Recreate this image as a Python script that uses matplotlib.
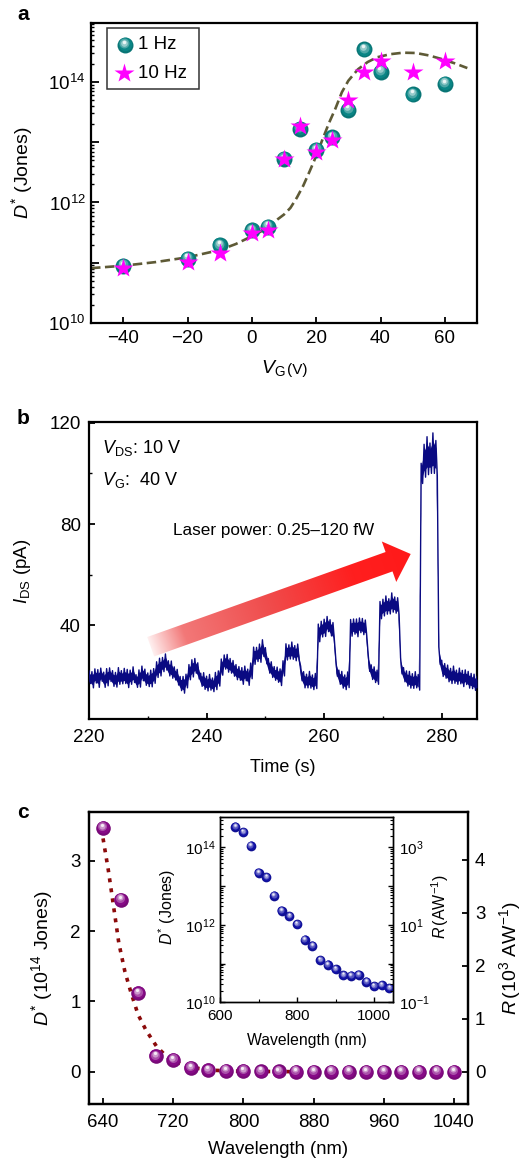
import numpy as np
import matplotlib
matplotlib.use("Agg")
import matplotlib.pyplot as plt
import matplotlib.colors as mcolors
from matplotlib.transforms import offset_copy
from matplotlib.patches import Polygon, Rectangle
from matplotlib.ticker import LogLocator, MultipleLocator, FixedLocator, NullFormatter, FuncFormatter

# ---------------- data: panel a ----------------
vg = [-40, -20, -10, 0, 5, 10, 15, 20, 25, 30, 35, 40, 50, 60]
dstar_1hz = [8.9e10, 1.17e11, 1.95e11, 3.47e11, 3.98e11, 5.25e12, 1.66e13, 7.4e12,
             1.2e13, 3.47e13, 3.47e14, 1.48e14, 6.2e13, 9.3e13]
dstar_10hz = [8.3e10, 1.02e11, 1.45e11, 3.16e11, 3.55e11, 5.25e12, 1.86e13, 6.8e12,
              1.1e13, 5.1e13, 1.48e14, 2.2e14, 1.48e14, 2.2e14]
fit_vg = [-50, -40, -30, -20, -10, -5, 0, 5, 8, 10, 12, 14, 16, 18, 20, 22, 24, 26, 28,
          30, 33, 36, 39, 43, 47, 51, 55, 59, 63, 67]
fit_log10 = [10.91, 10.95, 11.01, 11.09, 11.21, 11.31, 11.44, 11.58, 11.72, 11.80, 11.91,
             12.08, 12.28, 12.52, 12.77, 13.05, 13.32, 13.56, 13.83, 14.02, 14.21, 14.33,
             14.41, 14.46, 14.485, 14.48, 14.44, 14.38, 14.31, 14.23]

# ---------------- data: panel b ----------------
time_s = np.arange(220.0, 286.01, 0.5)
current_mid = [19.5, 18.5, 20.0, 19.0, 20.5, 18.5, 19.5, 20.5, 19.0, 18.5,
               20.0, 19.5, 20.0, 19.0, 19.5, 20.5, 18.0, 19.0, 21.0, 19.5,
               18.5, 19.0, 20.0, 22.5, 23.5, 24.5, 25.5, 23.0, 22.5, 21.0,
               19.5, 17.0, 16.5, 18.0, 21.5, 23.0, 24.0, 22.0, 18.5, 18.0,
               17.0, 17.5, 16.5, 18.0, 19.0, 23.5, 25.5, 25.0, 24.0, 23.0,
               21.5, 21.0, 20.0, 21.0, 19.5, 22.0, 28.0, 28.5, 29.0, 31.0,
               28.0, 24.0, 22.5, 21.0, 20.5, 19.5, 23.0, 29.5, 29.5, 30.0,
               29.0, 29.5, 21.0, 18.5, 18.0, 18.5, 17.5, 18.0, 37.0, 38.5,
               39.0, 40.5, 39.0, 37.5, 23.0, 19.5, 18.5, 17.5, 18.5, 39.0,
               39.5, 39.0, 40.0, 39.5, 39.0, 25.0, 21.5, 20.5, 19.5, 46.0,
               47.0, 48.0, 47.5, 49.0, 48.0, 47.5, 24.0, 20.5, 19.0, 18.5,
               18.0, 18.5, 17.5, 100.0, 105.0, 107.0, 106.0, 108.0, 106.0, 28.0,
               23.0, 22.0, 21.0, 20.0, 20.5, 19.5, 20.0, 19.0, 19.5, 18.5,
               18.0, 17.5, 17.0]
current_spread = [2.5, 3.2, 2.8, 3.5, 2.6, 3.0, 3.4, 2.7, 3.1, 2.9,
                  3.3, 2.6, 3.0, 3.6, 2.8, 3.1, 2.5, 3.4, 2.9, 3.2,
                  2.7, 3.3, 2.9, 3.1, 3.5, 2.8, 3.2, 3.0, 3.4, 2.6,
                  3.1, 2.8, 3.3, 2.7, 3.0, 3.4, 2.9, 3.2, 2.6, 3.3,
                  2.9, 3.1, 2.7, 3.4, 3.0, 3.2, 2.8, 3.5, 2.9, 3.1,
                  3.0, 2.7, 3.3, 2.9, 3.2, 3.1, 3.4, 2.8, 3.6, 3.3,
                  3.2, 2.9, 3.1, 2.7, 3.0, 3.3, 3.0, 3.2, 2.8, 3.4,
                  3.0, 3.1, 2.9, 3.2, 2.7, 3.3, 2.9, 3.0, 3.5, 3.1,
                  3.4, 3.0, 3.2, 3.6, 3.1, 2.8, 3.3, 2.9, 3.1, 3.3,
                  3.0, 3.5, 2.9, 3.2, 3.1, 3.2, 2.9, 3.1, 2.8, 3.4,
                  3.3, 3.6, 3.0, 3.8, 3.2, 3.4, 3.2, 2.8, 3.0, 3.3,
                  2.9, 3.2, 3.1, 4.0, 6.5, 7.5, 6.0, 8.0, 7.0, 3.5,
                  3.2, 2.9, 3.3, 3.0, 3.4, 2.8, 3.1, 3.2, 2.9, 3.3,
                  3.0, 3.2, 2.9]

# ---------------- data: panel c ----------------
wavelength_nm = [640, 660, 680, 700, 720, 740, 760, 780, 800, 820, 840, 860, 880, 900,
                 920, 940, 960, 980, 1000, 1020, 1040]
dstar_jones = [3.47e14, 2.45e14, 1.12e14, 2.2e13, 1.7e13, 5.6e12, 2.3e12, 1.66e12,
               1.05e12, 4.1e11, 2.9e11, 1.23e11, 9.3e10, 7.1e10, 5.0e10, 4.9e10,
               5.1e10, 3.4e10, 2.6e10, 2.8e10, 2.3e10]
fit_wl = [640, 646, 651, 658, 665, 672, 680, 689, 701, 716, 740, 765, 800, 860]
fit_dstar14 = [3.32, 2.87, 2.44, 1.83, 1.42, 1.12, 0.81, 0.59, 0.36, 0.17, 0.06, 0.02,
               0.005, 0.0]

# ---------------- style ----------------
plt.rcParams.update({
    "font.family": ["Liberation Sans", "DejaVu Sans"],
    "mathtext.fontset": "custom",
    "mathtext.rm": "Liberation Sans",
    "mathtext.it": "Liberation Sans:italic",
    "mathtext.bf": "Liberation Sans:bold",
    "axes.linewidth": 1.6,
    "xtick.direction": "in",
    "ytick.direction": "in",
    "xtick.major.width": 1.3,
    "ytick.major.width": 1.3,
    "xtick.minor.width": 1.0,
    "ytick.minor.width": 1.0,
    "xtick.major.size": 4.5,
    "ytick.major.size": 4.5,
    "xtick.minor.size": 2.5,
    "ytick.minor.size": 2.5,
})

W, H = 529, 1160
fig = plt.figure(figsize=(W / 100, H / 100), dpi=100)
TICK = 13.5
LAB = 14


def ax_px(left, top, right, bottom):
    return fig.add_axes([left / W, 1 - bottom / H, (right - left) / W, (bottom - top) / H])


def spheres(ax, x, y, color, ms, transform=None, zorder=3):
    base = transform if transform is not None else ax.transData
    c = np.array(mcolors.to_rgb(color))
    layers = [(1.0, -0.12, 0.0, 0.0), (0.84, 0.0, -0.02, 0.05), (0.62, 0.28, -0.04, 0.10),
              (0.42, 0.58, -0.06, 0.15), (0.22, 0.92, -0.07, 0.20)]
    for f, t, dx, dy in layers:
        if t < 0:
            col = c * (1 + t)
        else:
            col = c * (1 - t) + t
        tr = offset_copy(base, fig=fig, x=dx * ms, y=dy * ms, units="points")
        ax.plot(x, y, "o", ms=ms * f, color=col, mec="none", transform=tr,
                zorder=zorder, linestyle="none")


# ======================= panel a =======================
axa = ax_px(91, 23, 477, 323)
axa.plot(fit_vg, 10 ** np.array(fit_log10), color="#5e5a36", lw=1.9,
         linestyle=(0, (3.6, 1.7)), zorder=2)
spheres(axa, vg, dstar_1hz, "#0a8585", 11.5, zorder=3)
axa.plot(vg, dstar_10hz, "*", ms=14.5, color="#ff00ff", mec="none", linestyle="none", zorder=6)
axa.set_yscale("log")
axa.set_xlim(-50, 70)
axa.set_ylim(1e10, 9.5e14)
axa.xaxis.set_major_locator(FixedLocator([-40, -20, 0, 20, 40, 60]))
axa.yaxis.set_major_locator(LogLocator(base=10, numticks=20))
axa.yaxis.set_minor_locator(LogLocator(base=10, subs=np.arange(2, 10), numticks=20))
axa.yaxis.set_minor_formatter(NullFormatter())


def even_pow(v, pos):
    e = int(round(np.log10(v)))
    return r"$10^{%d}$" % e if e % 2 == 0 else ""


axa.yaxis.set_major_formatter(FuncFormatter(even_pow))
axa.tick_params(axis="both", labelsize=TICK)
axa.tick_params(axis="y", pad=4)
axa.tick_params(axis="x", pad=5)
axa.tick_params(axis="y", which="major", length=5.5)
axa.text(-0.178, 0.5, r"$D^{*}$ (Jones)", rotation=90, ha="center", va="center",
         fontsize=LAB, transform=axa.transAxes)
axa.text(0.503, -0.15, r"$V_{\mathrm{G}}$", ha="right", va="center", fontsize=LAB,
         transform=axa.transAxes)
axa.text(0.508, -0.157, "(V)", ha="left", va="center", fontsize=11,
         transform=axa.transAxes)
# legend
axa.add_patch(Rectangle((0.0415, 0.78), 0.2385, 0.203, transform=axa.transAxes,
                        facecolor="white", edgecolor="#333333", lw=1.1, zorder=7))
spheres(axa, [0.088], [0.927], "#0a8585", 11.5, transform=axa.transAxes, zorder=8)
axa.plot([0.0855], [0.833], "*", ms=14.5, color="#ff00ff", mec="none",
         transform=axa.transAxes, zorder=8)
axa.text(0.122, 0.927, "1 Hz", fontsize=13.5, ha="left", va="center",
         transform=axa.transAxes, zorder=9)
axa.text(0.122, 0.833, "10 Hz", fontsize=13.5, ha="left", va="center",
         transform=axa.transAxes, zorder=9)
fig.text(17 / W, 1 - 14 / H, "a", fontsize=15, fontweight="bold", ha="left", va="center")

# ======================= panel b =======================
axb = ax_px(89, 422, 477, 719)
mid = np.array(current_mid)
spr = np.array(current_spread)
axb.fill_between(time_s, mid - 0.6 * spr, mid + 0.6 * spr, color="#0a0a82", lw=0, zorder=3)
tz = np.empty(2 * len(time_s))
yz = np.empty(2 * len(time_s))
tz[0::2] = time_s
tz[1::2] = time_s + 0.25
yz[0::2] = mid + spr
yz[1::2] = mid - spr
axb.plot(tz, yz, color="#0a0a82", lw=1.0, zorder=3)
axb.set_xlim(220, 286)
axb.set_ylim(3, 120.3)
axb.xaxis.set_major_locator(MultipleLocator(20))
axb.xaxis.set_minor_locator(MultipleLocator(10))
axb.yaxis.set_major_locator(FixedLocator([40, 80, 120]))
axb.yaxis.set_minor_locator(FixedLocator([20, 60, 100]))
axb.tick_params(axis="both", labelsize=TICK)
axb.tick_params(axis="x", pad=7)
axb.tick_params(axis="y", pad=6)
axb.text(-0.172, 0.496, r"$I_{\mathrm{DS}}$ (pA)", rotation=90, ha="center", va="center",
         fontsize=13.5, transform=axb.transAxes)
axb.text(0.5, -0.162, "Time (s)", ha="center", va="center", fontsize=13,
         transform=axb.transAxes)
axb.text(0.0335, 0.912, r"$V_{\mathrm{DS}}$: 10 V", ha="left", va="center", fontsize=13,
         transform=axb.transAxes)
axb.text(0.0335, 0.805, r"$V_{\mathrm{G}}$:  40 V", ha="left", va="center", fontsize=13,
         transform=axb.transAxes)
axb.text(0.2165, 0.636, "Laser power: 0.25\u2013120 fW", ha="left", va="center",
         fontsize=12.3, transform=axb.transAxes)

# gradient arrow (axes pixel space)
AW, AH = 388.0, 297.0
T = np.array([61.7, 72.3])
P = np.array([321.7, 165.0])
d = P - T
L = np.hypot(*d)
u = d / L
n = np.array([-u[1], u[0]])
hw_shaft, hw_head, head_len = 10.3, 21.5, 23.0
Hb = P - u * head_len
poly_px = np.array([T - n * hw_shaft, Hb - n * hw_shaft, Hb - n * hw_head, P,
                    Hb + n * hw_head, Hb + n * hw_shaft, T + n * hw_shaft])
x0, y0 = poly_px.min(axis=0) - 2
x1, y1 = poly_px.max(axis=0) + 2
gx, gy = np.meshgrid(np.linspace(x0, x1, 400), np.linspace(y0, y1, 160))
s = np.clip(((gx - T[0]) * u[0] + (gy - T[1]) * u[1]) / L, 0, 1)
stops = [0.0, 0.13, 0.45, 0.78, 1.0]
rs = [1.0, 0.95, 0.94, 1.0, 1.0]
gs = [0.94, 0.47, 0.30, 0.12, 0.10]
bs = [0.94, 0.47, 0.30, 0.12, 0.10]
img = np.dstack([np.interp(s, stops, rs), np.interp(s, stops, gs), np.interp(s, stops, bs)])
im = axb.imshow(img, extent=(x0 / AW, x1 / AW, y0 / AH, y1 / AH), origin="lower",
                transform=axb.transAxes, aspect="auto", zorder=5, interpolation="bilinear")
clip_poly = Polygon(poly_px / np.array([AW, AH]), closed=True, transform=axb.transAxes,
                    facecolor="none", edgecolor="none")
axb.add_patch(clip_poly)
im.set_clip_path(clip_poly)
axb.set_xlim(220, 286)
axb.set_ylim(3, 120.3)
fig.text(17 / W, 1 - 418 / H, "b", fontsize=15, fontweight="bold", ha="left", va="center")

# ======================= panel c =======================
axc = ax_px(89, 811.7, 468, 1104)
axc.plot(fit_wl, fit_dstar14, color="#8b0a0a", lw=2.6, linestyle=(0, (1.1, 1.7)),
         zorder=2)
spheres(axc, wavelength_nm, np.array(dstar_jones) / 1e14, "#870a87", 10.5, zorder=3)
axc.set_xlim(624, 1056)
axc.set_ylim(-0.46, 3.70)
axc.xaxis.set_major_locator(MultipleLocator(80))
axc.yaxis.set_major_locator(FixedLocator([0, 1, 2, 3]))
axc.tick_params(axis="both", labelsize=TICK)
axc.tick_params(axis="x", pad=7)
axc.tick_params(axis="y", pad=6)
axc2 = axc.twinx()
axc2.set_ylim(-0.61, 4.91)
axc2.yaxis.set_major_locator(FixedLocator([0, 1, 2, 3, 4]))
axc2.tick_params(axis="y", labelsize=TICK, direction="in", pad=5)
axc.text(-0.123, 0.5, r"$D^{*}$ (10$^{14}$ Jones)", rotation=90, ha="center", va="center",
         fontsize=LAB, transform=axc.transAxes)
axc.text(1.111, 0.5, r"$R\,(10^{3}\ \mathrm{AW}^{-1})$", rotation=90, ha="center",
         va="center", fontsize=LAB, transform=axc.transAxes)
axc.text(0.5, -0.157, "Wavelength (nm)", ha="center", va="center", fontsize=13.3,
         transform=axc.transAxes)
fig.text(17 / W, 1 - 812 / H, "c", fontsize=15, fontweight="bold", ha="left", va="center")

# inset
axi = ax_px(220, 817.3, 393.3, 1002.3)
axi.set_facecolor("white")
spheres(axi, wavelength_nm, dstar_jones, "#1212a6", 7.0, zorder=3)
axi.set_yscale("log")
axi.set_xlim(600, 1050)
axi.set_ylim(1e10, 10 ** 14.78)
axi.xaxis.set_major_locator(MultipleLocator(200))
axi.xaxis.set_minor_locator(MultipleLocator(100))
axi.yaxis.set_major_locator(LogLocator(base=10, numticks=20))
axi.yaxis.set_minor_locator(LogLocator(base=10, subs=np.arange(2, 10), numticks=20))
axi.yaxis.set_minor_formatter(NullFormatter())
axi.yaxis.set_major_formatter(FuncFormatter(even_pow))
for sp in axi.spines.values():
    sp.set_linewidth(1.0)
axi.tick_params(axis="both", labelsize=11, width=1.0, length=3.5)
axi.tick_params(which="minor", width=0.8, length=2)
axi.tick_params(axis="x", pad=5)
axi.tick_params(axis="y", pad=3.5)
axi2 = axi.twinx()
axi2.set_yscale("log")
axi2.set_ylim(1e-1, 10 ** 3.78)
axi2.yaxis.set_major_locator(LogLocator(base=10, numticks=20))
axi2.yaxis.set_minor_locator(LogLocator(base=10, subs=np.arange(2, 10), numticks=20))
axi2.yaxis.set_minor_formatter(NullFormatter())


def odd_pow(v, pos):
    e = int(round(np.log10(v)))
    return r"$10^{%d}$" % e if e % 2 != 0 else ""


axi2.yaxis.set_major_formatter(FuncFormatter(odd_pow))
axi2.tick_params(axis="y", labelsize=11, direction="in", width=1.0, length=3.5, pad=4)
axi2.tick_params(axis="y", which="minor", direction="in", width=0.8, length=2)
for sp in axi2.spines.values():
    sp.set_linewidth(1.0)
axi.text(-0.306, 0.517, r"$D^{*}$ (Jones)", rotation=90, ha="center", va="center",
         fontsize=11.5, transform=axi.transAxes)
axi.text(1.27, 0.517, r"$R\,(\mathrm{AW}^{-1})$", rotation=90, ha="center", va="center",
         fontsize=11.5, transform=axi.transAxes)
axi.text(0.5, -0.204, "Wavelength (nm)", ha="center", va="center", fontsize=11.3,
         transform=axi.transAxes)

fig.savefig("out.png", dpi=100)
